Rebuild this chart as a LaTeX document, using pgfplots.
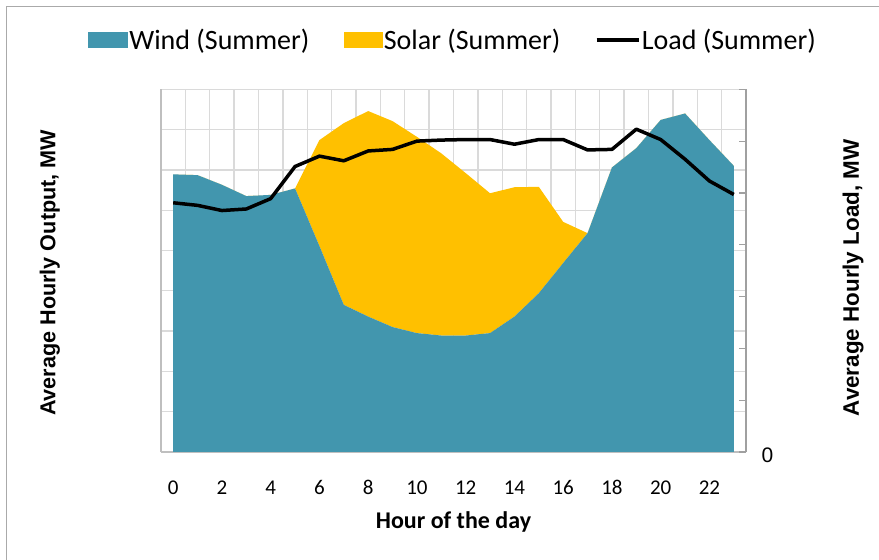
\documentclass[border=0pt]{standalone}
\usepackage{fontspec}
\setmainfont{Carlito}
\newfontfamily\arialfont{Liberation Sans}
\usepackage{pgfplots}
\usepackage{pgfplotstable}
\pgfplotsset{compat=1.18}
\definecolor{windc}{RGB}{66,150,174}
\definecolor{solarc}{RGB}{255,192,0}
\definecolor{gridc}{RGB}{218,218,218}
\definecolor{axisc}{RGB}{191,191,191}
\definecolor{raxisc}{RGB}{160,160,160}
\definecolor{framec}{RGB}{170,170,170}

\pgfplotstableread{
hour wind solar load
0 6.89 0 4.81
1 6.87 0 4.76
2 6.63 0 4.66
3 6.35 0 4.69
4 6.38 0 4.89
5 6.54 0 5.51
6 5.11 2.63 5.71
7 3.65 4.51 5.62
8 3.36 5.10 5.81
9 3.10 5.11 5.84
10 2.95 4.87 6.00
11 2.89 4.52 6.02
12 2.89 4.03 6.03
13 2.95 3.47 6.03
14 3.36 3.21 5.94
15 3.94 2.64 6.03
16 4.69 1.02 6.03
17 5.43 0 5.83
18 7.06 0 5.84
19 7.54 0 6.23
20 8.24 0 6.03
21 8.40 0 5.65
22 7.74 0 5.23
23 7.10 0 4.97
}\datatable

\begin{document}
\begin{tikzpicture}[x=1pt,y=1pt]
\useasboundingbox (0,0) rectangle (879,560);
\fill[white] (0,0) rectangle (879,560);
\draw[framec, line width=1.5pt] (6.5,0) -- (6.5,553.5) -- (879,553.5);
\begin{axis}[
  at={(161pt,108pt)}, anchor=south west,
  scale only axis, width=585pt, height=362.7pt,
  xmin=-0.5, xmax=23.5, ymin=0, ymax=9,
  stack plots=y,
  axis x line*=bottom, axis y line*=left,
  axis line style={-, draw=axisc, line width=1.2pt},
  xtick={0,2,...,22}, minor xtick={-0.5,0.5,...,23.5}, xminorgrids=true,
  ytick={0,1,...,9}, yticklabels={}, ymajorgrids=true,
  grid style={draw=gridc, line width=1.3pt},
  minor grid style={draw=gridc, line width=1.3pt},
  major tick length=0pt, minor tick length=0pt,
  /pgf/number format/assume math mode=true,
  xticklabel style={font=\fontsize{21}{24}\selectfont, yshift=-25pt},
  xlabel={Hour of the day},
  every axis x label/.style={at={(axis description cs:0.5,-0.193)}, anchor=center, font=\bfseries\fontsize{24}{28}\selectfont},
  ylabel={Average Hourly Output, MW},
  every axis y label/.style={at={(axis description cs:-0.19,0.494)}, rotate=90, anchor=center, font=\arialfont\bfseries\fontsize{21.6}{24}\selectfont},
]
\addplot[draw=none, fill=windc] table[x=hour,y=wind]{\datatable} \closedcycle;
\addplot[draw=none, fill=solarc] table[x=hour,y=solar]{\datatable} \closedcycle;
\end{axis}
\begin{axis}[
  at={(161pt,108pt)}, anchor=south west,
  scale only axis, width=585pt, height=362.7pt,
  xmin=-0.5, xmax=23.5, ymin=0, ymax=7,
  axis x line=none, axis y line*=right,
  axis line style={-, draw=raxisc, line width=1.5pt},
  ytick={0,1,...,7}, yticklabels={0,,,,,,,},
  tick align=inside, major tick length=7pt,
  ytick style={draw=raxisc, line width=1.2pt},
  /pgf/number format/assume math mode=true,
  yticklabel style={font=\arialfont\fontsize{21}{24}\selectfont, xshift=12pt, yshift=-3pt},
  ylabel={Average Hourly Load, MW},
  every axis y label/.style={at={(axis description cs:1.183,0.48)}, rotate=90, anchor=center, font=\arialfont\bfseries\fontsize{22.4}{25}\selectfont},
  legend columns=3,
  legend style={at={(0.499,1.136)}, anchor=center, draw=none, fill=none,
    font=\fontsize{28}{32}\selectfont,
    /tikz/every even column/.append style={column sep=33pt},
    nodes={inner sep=1.5pt}},
]
\addlegendimage{legend image code/.code={\fill[windc] (0pt,-7.5pt) rectangle (39pt,7.5pt);}}
\addlegendentry{Wind (Summer)}
\addlegendimage{legend image code/.code={\fill[solarc] (0pt,-7.5pt) rectangle (38pt,7.5pt);}}
\addlegendentry{Solar (Summer)}
\addplot[black, line width=3.5pt, line join=round,
  legend image code/.code={\draw[black, line width=3.5pt] (0pt,0pt) -- (42pt,0pt);}]
  table[x=hour,y=load]{\datatable};
\addlegendentry{Load (Summer)}
\end{axis}
\end{tikzpicture}
\end{document}
